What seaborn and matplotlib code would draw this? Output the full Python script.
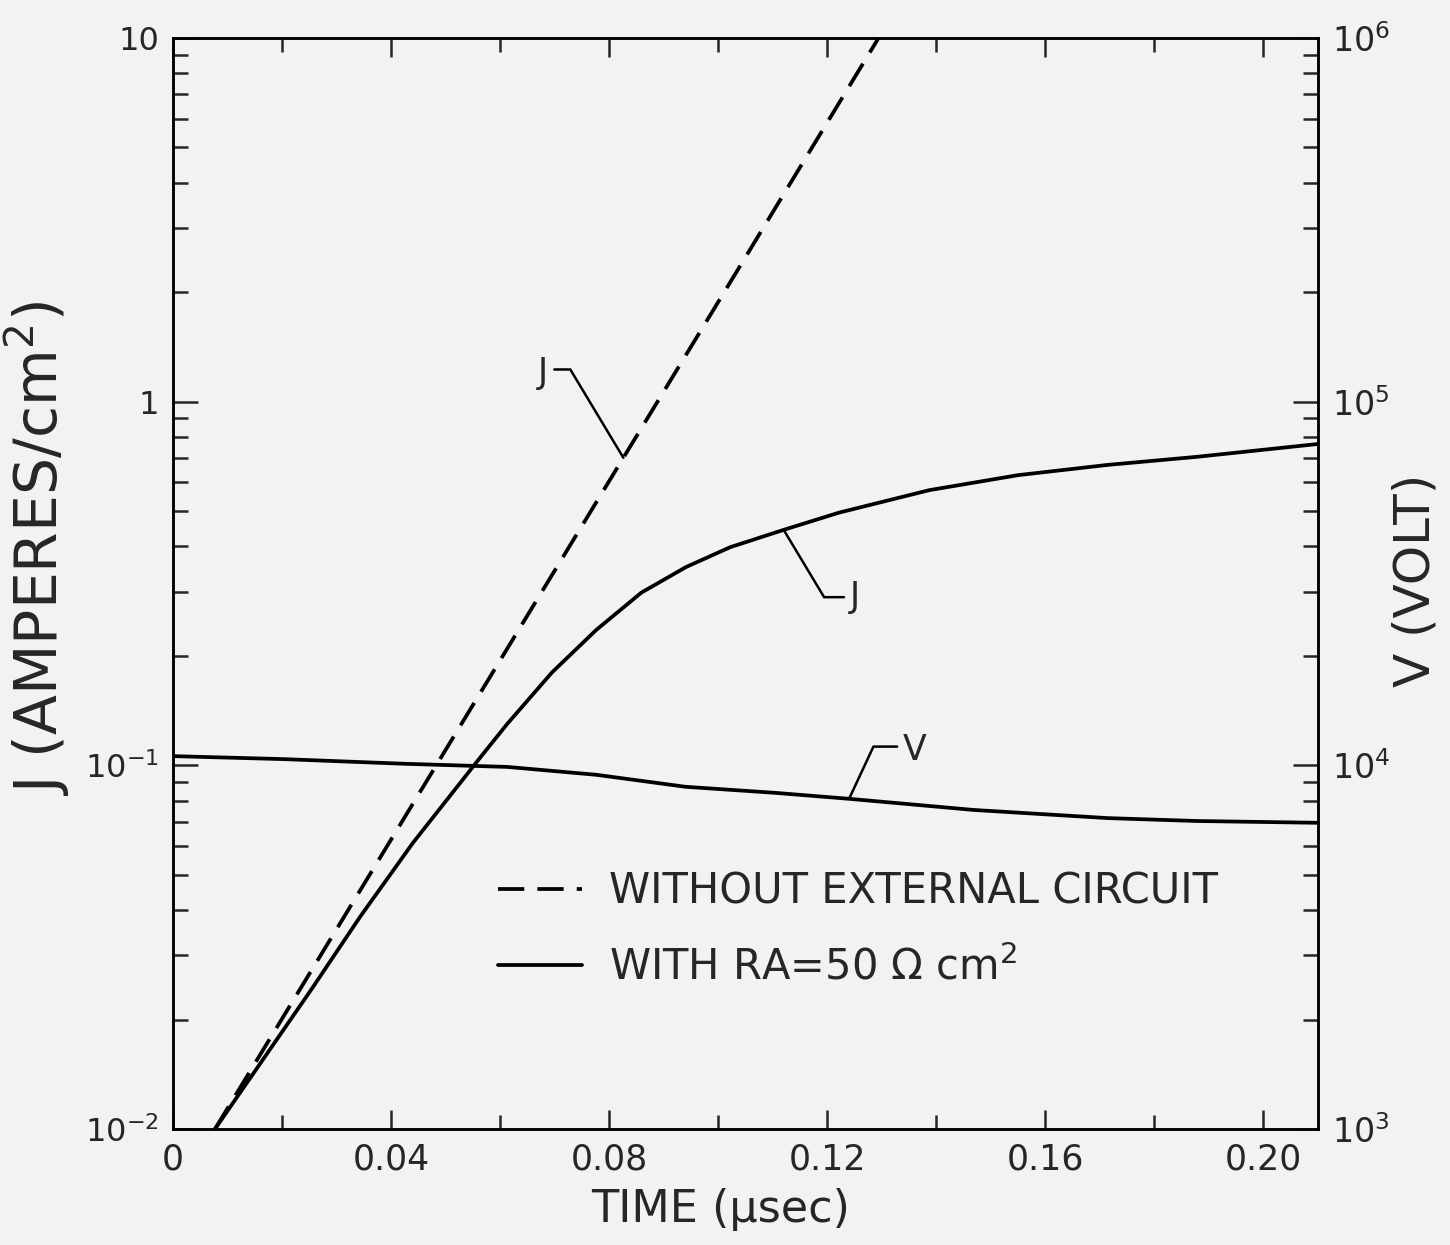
import numpy as np
import pandas as pd
import matplotlib
matplotlib.use("Agg")
import matplotlib.pyplot as plt
import seaborn as sns
from matplotlib.ticker import FixedLocator, LogLocator, NullFormatter, MultipleLocator, FixedFormatter

# ---- data ----
t_dashed = [0.0077, 0.020, 0.040, 0.060, 0.080, 0.100, 0.120, 0.1294]
j_dashed = [0.0100, 0.0201, 0.0625, 0.1945, 0.605, 1.88, 5.86, 10.0]

t_solid = [0.0077, 0.0253, 0.0343, 0.0440, 0.0560, 0.0613, 0.0695, 0.0776, 0.0859,
           0.0941, 0.1022, 0.1121, 0.1222, 0.1387, 0.155, 0.1714, 0.1877, 0.21]
j_solid = [0.0100, 0.0241, 0.0383, 0.0612, 0.1035, 0.130, 0.180, 0.2355, 0.2985,
           0.351, 0.398, 0.4446, 0.4955, 0.571, 0.628, 0.670, 0.705, 0.765]

t_volt = [0.0, 0.0204, 0.0424, 0.0613, 0.0776, 0.094, 0.1105, 0.124, 0.1468, 0.1714, 0.1877, 0.21]
v_volt = [10600, 10400, 10100, 9900, 9420, 8730, 8400, 8090, 7540, 7160, 7030, 6950]

x_ticks = [0, 0.04, 0.08, 0.12, 0.16, 0.20]
x_ticklabels = ["0", "0.04", "0.08", "0.12", "0.16", "0.20"]
jy_ticks = [0.01, 0.1, 1, 10]
jy_ticklabels = ["$10^{-2}$", "$10^{-1}$", "1", "10"]
vy_ticks = [1e3, 1e4, 1e5, 1e6]
vy_ticklabels = ["$10^{3}$", "$10^{4}$", "$10^{5}$", "$10^{6}$"]
legend_labels = ["WITHOUT EXTERNAL CIRCUIT", "WITH RA=50 Ω cm$^{2}$"]

# ---- style ----
sns.set_style("ticks")
plt.rcParams["font.family"] = ["DejaVu Sans"]
plt.rcParams["mathtext.default"] = "regular"
paper = "#f2f2f0"

fig = plt.figure(figsize=(14.5, 12.45), dpi=100, facecolor=paper)
ax = fig.add_axes([173 / 1450, 1 - 1129 / 1245, (1318 - 173) / 1450, (1129 - 38) / 1245])
ax.set_facecolor(paper)
ax.set_yscale("log")

df_d = pd.DataFrame({"t": t_dashed, "J": j_dashed})
df_s = pd.DataFrame({"t": t_solid, "J": j_solid})
df_v = pd.DataFrame({"t": t_volt, "V": v_volt})

lw = 2.7
sns.lineplot(data=df_d, x="t", y="J", ax=ax, color="black", linewidth=lw,
             linestyle=(0, (7, 3.5)), errorbar=None, sort=False)
sns.lineplot(data=df_s, x="t", y="J", ax=ax, color="black", linewidth=lw,
             errorbar=None, sort=False)

ax.set_xlim(0, 0.21)
ax.set_ylim(0.01, 10)

ax2 = ax.twinx()
ax2.set_yscale("log")
sns.lineplot(data=df_v, x="t", y="V", ax=ax2, color="black", linewidth=lw,
             errorbar=None, sort=False)
ax2.set_ylim(1e3, 1e6)
ax2.set_xlim(0, 0.21)

# ticks
ax.xaxis.set_major_locator(FixedLocator(x_ticks))
ax.xaxis.set_major_formatter(FixedFormatter(x_ticklabels))
ax.xaxis.set_minor_locator(MultipleLocator(0.02))
ax.yaxis.set_major_locator(FixedLocator(jy_ticks))
ax.yaxis.set_major_formatter(FixedFormatter(jy_ticklabels))
ax.yaxis.set_minor_locator(LogLocator(base=10, subs=np.arange(2, 10)))
ax.yaxis.set_minor_formatter(NullFormatter())
ax2.yaxis.set_major_locator(FixedLocator(vy_ticks))
ax2.yaxis.set_major_formatter(FixedFormatter(vy_ticklabels))
ax2.yaxis.set_minor_locator(LogLocator(base=10, subs=np.arange(2, 10)))
ax2.yaxis.set_minor_formatter(NullFormatter())

ax.tick_params(axis="x", which="major", direction="in", top=True, length=14, width=1.8,
               labelsize=25, pad=10)
ax.tick_params(axis="x", which="minor", direction="in", top=True, length=10, width=1.8)
ax.tick_params(axis="y", which="major", direction="in", length=18, width=1.8,
               labelsize=23, pad=10)
ax.tick_params(axis="y", which="minor", direction="in", length=11, width=1.8)
ax2.tick_params(axis="y", which="major", direction="in", length=18, width=1.8,
                labelsize=24, pad=10)
ax2.tick_params(axis="y", which="minor", direction="in", length=11, width=1.8)

for a in (ax, ax2):
    for s in a.spines.values():
        s.set_linewidth(1.8)
        s.set_color("black")

ax.set_xlabel("TIME (μsec)", fontsize=32)
ax.xaxis.set_label_coords(0.478, -0.054)
ax.set_ylabel("J (AMPERES/cm$^{2}$)", fontsize=42)
ax.yaxis.set_label_coords(-0.088, 0.532)
ax2.set_ylabel("V (VOLT)", fontsize=36)
ax2.yaxis.set_label_coords(1.064, 0.503)

# legend
handles = [ax.lines[0], ax.lines[1]]
ax.legend(handles, legend_labels, loc="center left", bbox_to_anchor=(0.284, 0.183),
          frameon=False, fontsize=30, handlelength=2.0, handletextpad=0.65,
          labelspacing=0.8, borderpad=0, borderaxespad=0)

# curve labels with leader lines
def on_curve(tq, ts, ys):
    return 10 ** np.interp(tq, ts, np.log10(ys))

t_a = 0.0826
ax.annotate("J", xy=(t_a, on_curve(t_a, t_dashed, j_dashed)), xytext=(0.0679, 1.2),
            fontsize=25, ha="center", va="center",
            arrowprops=dict(arrowstyle="-", lw=1.8, color="black", shrinkA=2, shrinkB=0,
                            relpos=(1, 0.6),
                            connectionstyle="angle,angleA=0,angleB=121,rad=0"))
t_b = 0.112
ax.annotate("J", xy=(t_b, on_curve(t_b, t_solid, j_solid)), xytext=(0.1251, 0.29),
            fontsize=25, ha="center", va="center",
            arrowprops=dict(arrowstyle="-", lw=1.8, color="black", shrinkA=2, shrinkB=0,
                            relpos=(0, 0.5),
                            connectionstyle="angle,angleA=0,angleB=-59,rad=0"))
t_c = 0.124
ax2.annotate("V", xy=(t_c, on_curve(t_c, t_volt, v_volt)), xytext=(0.1361, 11020),
             fontsize=25, ha="center", va="center",
             arrowprops=dict(arrowstyle="-", lw=1.8, color="black", shrinkA=2, shrinkB=0,
                             relpos=(0, 0.6),
                             connectionstyle="angle,angleA=0,angleB=65,rad=0"))

fig.savefig("out.png", dpi=100, facecolor=paper)
